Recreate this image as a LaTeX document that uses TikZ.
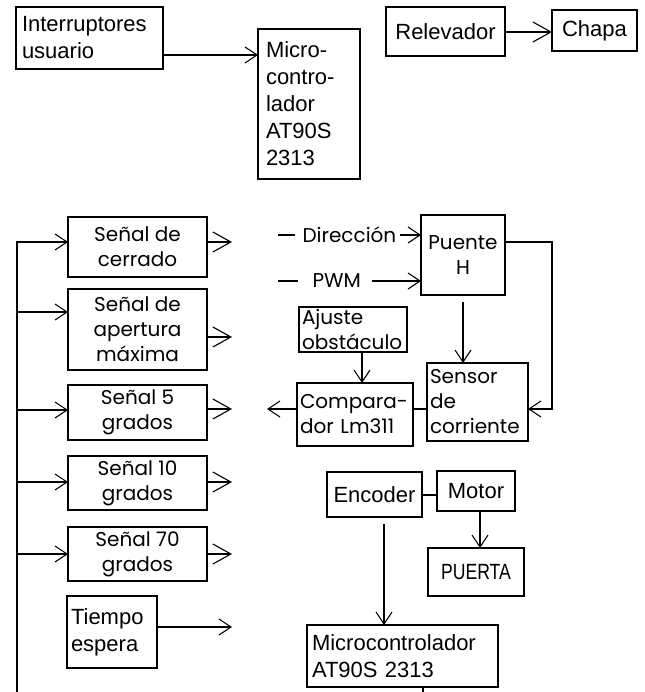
\documentclass[tikz,border=0pt]{standalone}
\usepackage{fontspec}
\usetikzlibrary{arrows.meta}
\newfontfamily\fa{Liberation Sans}
\newfontfamily\fb{Poppins}
\newfontfamily\fcond[FakeStretch=0.8]{Liberation Sans}
\newcommand{\ta}{\fa\fontsize{22}{27}\selectfont}
\newcommand{\tb}{\fb\fontsize{20}{25}\selectfont}
\newcommand{\tc}{\fcond\fontsize{22}{27}\selectfont}
\begin{document}
\begin{tikzpicture}[x=1pt,y=-1pt,
  line width=1.1pt,
  bx/.style={draw, inner sep=0pt, outer sep=0pt, anchor=north west},
  arr/.style={-{Straight Barb[length=12pt,width=16pt]}},
  arrb/.style={-{Straight Barb[length=18pt,width=20pt]}},
  fa/.style={font=\ta},
  fb/.style={font=\tb},
  fc/.style={font=\tc}]
\useasboundingbox (0,0) rectangle (644,692);
% top
\node[bx,fa,minimum width=147pt,minimum height=62pt,text width=135pt,align=left] (intr) at (16,7) {Interruptores\\usuario};
\node[bx,fa,minimum width=102pt,minimum height=150pt,text width=86pt,align=left] (mca) at (258,29) {Micro-\\contro-\\lador\\AT90S\\2313};
\node[bx,fa,minimum width=119pt,minimum height=49pt,align=center] (rel) at (386,7) {Relevador};
\node[bx,fa,minimum width=85pt,minimum height=41pt,align=center] (chapa) at (552,10) {Chapa};
\draw[arr] (intr.east |- 0,55) -- (mca.west |- 0,55);
\draw[arrb] (rel.east |- 0,32) -- (chapa.west |- 0,32);
% signal boxes
\node[bx,fb,minimum width=139pt,minimum height=60pt,align=center] (cerr) at (68,217) {Señal de\\cerrado};
\node[bx,fb,minimum width=139pt,minimum height=81pt,align=center] (aper) at (68,289) {Señal de\\apertura\\máxima};
\node[bx,fb,minimum width=139pt,minimum height=55pt,align=center] (s5) at (68,385) {Señal 5\\grados};
\node[bx,fb,minimum width=139pt,minimum height=54pt,align=center] (s10) at (68,456) {Señal 10\\grados};
\node[bx,fb,minimum width=139pt,minimum height=54pt,align=center] (s70) at (68,527) {Señal 70\\grados};
\node[bx,fa,minimum width=90pt,minimum height=72pt,text width=82pt,align=left] (tiem) at (67,596) {Tiempo\\espera};
% bus
\coordinate (busbot) at (17,692);
\draw[arr] (busbot) -- (17,242) -- (cerr.west |- 0,242);
\draw[arr] (17,312) -- (aper.west |- 0,312);
\draw[arr] (17,410) -- (s5.west |- 0,410);
\draw[arr] (17,482) -- (s10.west |- 0,482);
\draw[arr] (17,554) -- (s70.west |- 0,554);
% output stubs
\coordinate (o1) at (232,242);
\coordinate (o2) at (232,337);
\coordinate (o3) at (232,409);
\coordinate (o4) at (232,482);
\coordinate (o5) at (232,554);
\coordinate (o6) at (232,627);
\draw[arrb] (cerr.east |- o1) -- (o1);
\draw[arrb] (aper.east |- o2) -- (o2);
\draw[arrb] (s5.east |- o3) -- (o3);
\draw[arrb] (s10.east |- o4) -- (o4);
\draw[arrb] (s70.east |- o5) -- (o5);
\draw[arr] (tiem.east |- o6) -- (o6);
% middle
\node[bx,fb,minimum width=84pt,minimum height=80pt,align=center] (pue) at (421,215) {Puente\\H};
\node[fb,inner sep=0pt,anchor=west] (dir) at (302,235) {Dirección};
\node[fb,inner sep=0pt,anchor=west] (pwm) at (312,281) {PWM};
\coordinate (d1) at (278,235);
\coordinate (p1) at (278,281);
\draw (d1) -- (295,235);
\draw (p1) -- (298,281);
\draw[arr] (400,235) -- (pue.west |- 0,235);
\draw[arr] (372,281) -- (pue.west |- 0,281);
\node[bx,fb,minimum width=108pt,minimum height=45pt,text width=102pt,align=left] (aju) at (299,307) {Ajuste\\obstáculo};
\node[bx,fb,minimum width=116pt,minimum height=63pt,text width=110pt,align=left] (comp) at (297,383) {Compara-\\dor Lm311};
\node[bx,fb,minimum width=101pt,minimum height=78pt,text width=95pt,align=left] (sen) at (427,363) {Sensor\\de\\corriente};
\draw[arr] ([yshift=-7pt]pue.south) -- (pue.south |- sen.north);
\draw[arr] (pue.east |- 0,242) -- (552,242) -- (552,409) -- (sen.east |- 0,409);
\draw[arr] (aju.south -| 362,0) -- (comp.north -| 362,0);
\draw (comp.east |- 0,409) -- (sen.west |- 0,409);
\coordinate (cl) at (267,409);
\draw[arr] (comp.west |- cl) -- (cl);
% lower right
\node[bx,fa,minimum width=95pt,minimum height=45pt,align=center] (enc) at (327,472) {Encoder};
\node[bx,fa,minimum width=78pt,minimum height=40pt,align=center] (mot) at (437,471) {Motor};
\node[bx,fc,minimum width=96pt,minimum height=48pt,align=center] (pta) at (428,548) {PUERTA};
\node[bx,fa,minimum width=191pt,minimum height=62pt,text width=181pt,align=left] (mcb) at (307,625) {Microcontrolador\\AT90S 2313};
\draw (enc.east |- 0,495) -- (mot.west |- 0,495);
\draw[arr] (mot.south -| 480,0) -- (pta.north -| 480,0);
\draw[arr] ([yshift=-7pt]enc.south -| 384,0) -- (mcb.north -| 384,0);
\coordinate (mbot) at (423,692);
\draw (mcb.south -| mbot) -- (mbot);
\end{tikzpicture}
\end{document}
